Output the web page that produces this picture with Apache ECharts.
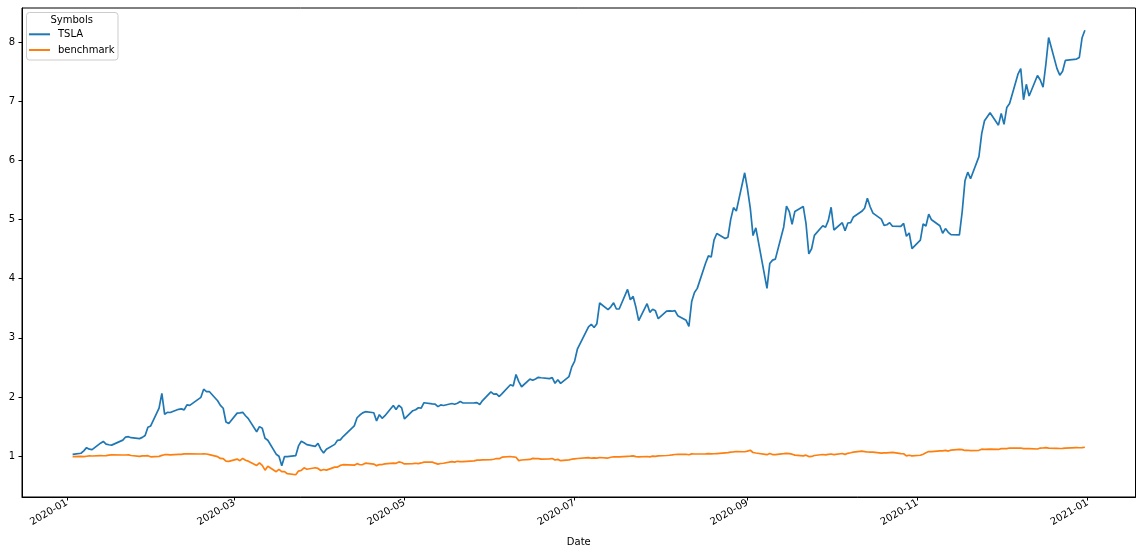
<!DOCTYPE html>
<html><head><meta charset="utf-8">
<script src="https://cdn.jsdelivr.net/npm/echarts@6/dist/echarts.min.js"></script>
<style>html,body{margin:0;padding:0;background:#fff}#c{width:1143px;height:554px}</style>
</head><body><div id="c"></div>
<script>
const dates = [
'2020-01-03','2020-01-06','2020-01-07','2020-01-08','2020-01-09','2020-01-10','2020-01-13','2020-01-14','2020-01-15','2020-01-16','2020-01-17','2020-01-21','2020-01-22','2020-01-23','2020-01-24','2020-01-27','2020-01-28','2020-01-29','2020-01-30','2020-01-31',
'2020-02-03','2020-02-04','2020-02-05','2020-02-06','2020-02-07','2020-02-10','2020-02-11','2020-02-12','2020-02-13','2020-02-14','2020-02-18','2020-02-19','2020-02-20','2020-02-21','2020-02-24','2020-02-25','2020-02-26','2020-02-27','2020-02-28',
'2020-03-02','2020-03-03','2020-03-04','2020-03-05','2020-03-06','2020-03-09','2020-03-10','2020-03-11','2020-03-12','2020-03-13','2020-03-16','2020-03-17','2020-03-18','2020-03-19','2020-03-20','2020-03-23','2020-03-24','2020-03-25','2020-03-26','2020-03-27','2020-03-30','2020-03-31',
'2020-04-01','2020-04-02','2020-04-03','2020-04-06','2020-04-07','2020-04-08','2020-04-09','2020-04-13','2020-04-14','2020-04-15','2020-04-16','2020-04-17','2020-04-20','2020-04-21','2020-04-22','2020-04-23','2020-04-24','2020-04-27','2020-04-28','2020-04-29','2020-04-30',
'2020-05-01','2020-05-04','2020-05-05','2020-05-06','2020-05-07','2020-05-08','2020-05-11','2020-05-12','2020-05-13','2020-05-14','2020-05-15','2020-05-18','2020-05-19','2020-05-20','2020-05-21','2020-05-22','2020-05-26','2020-05-27','2020-05-28','2020-05-29',
'2020-06-01','2020-06-02','2020-06-03','2020-06-04','2020-06-05','2020-06-08','2020-06-09','2020-06-10','2020-06-11','2020-06-12','2020-06-15','2020-06-16','2020-06-17','2020-06-18','2020-06-19','2020-06-22','2020-06-23','2020-06-24','2020-06-25','2020-06-26','2020-06-29','2020-06-30',
'2020-07-01','2020-07-02','2020-07-06','2020-07-07','2020-07-08','2020-07-09','2020-07-10','2020-07-13','2020-07-14','2020-07-15','2020-07-16','2020-07-17','2020-07-20','2020-07-21','2020-07-22','2020-07-23','2020-07-24','2020-07-27','2020-07-28','2020-07-29','2020-07-30','2020-07-31',
'2020-08-03','2020-08-04','2020-08-05','2020-08-06','2020-08-07','2020-08-10','2020-08-11','2020-08-12','2020-08-13','2020-08-14','2020-08-17','2020-08-18','2020-08-19','2020-08-20','2020-08-21','2020-08-24','2020-08-25','2020-08-26','2020-08-27','2020-08-28','2020-08-31',
'2020-09-01','2020-09-02','2020-09-03','2020-09-04','2020-09-08','2020-09-09','2020-09-10','2020-09-11','2020-09-14','2020-09-15','2020-09-16','2020-09-17','2020-09-18','2020-09-21','2020-09-22','2020-09-23','2020-09-24','2020-09-25','2020-09-28','2020-09-29','2020-09-30',
'2020-10-01','2020-10-02','2020-10-05','2020-10-06','2020-10-07','2020-10-08','2020-10-09','2020-10-12','2020-10-13','2020-10-14','2020-10-15','2020-10-16','2020-10-19','2020-10-20','2020-10-21','2020-10-22','2020-10-23','2020-10-26','2020-10-27','2020-10-28','2020-10-29','2020-10-30',
'2020-11-02','2020-11-03','2020-11-04','2020-11-05','2020-11-06','2020-11-09','2020-11-10','2020-11-11','2020-11-12','2020-11-13','2020-11-16','2020-11-17','2020-11-18','2020-11-19','2020-11-20','2020-11-23','2020-11-24','2020-11-25','2020-11-27','2020-11-30',
'2020-12-01','2020-12-02','2020-12-03','2020-12-04','2020-12-07','2020-12-08','2020-12-09','2020-12-10','2020-12-11','2020-12-14','2020-12-15','2020-12-16','2020-12-17','2020-12-18','2020-12-21','2020-12-22','2020-12-23','2020-12-24','2020-12-28','2020-12-29','2020-12-30','2020-12-31'
];
const tsla = [
1.030,1.050,1.090,1.144,1.119,1.111,1.220,1.250,1.205,1.193,1.187,1.272,1.324,1.330,1.313,1.297,1.318,1.350,1.489,1.512,
1.813,2.062,1.708,1.741,1.739,1.793,1.800,1.783,1.869,1.860,1.995,2.132,2.090,2.094,1.938,1.859,1.810,1.578,1.553,
1.728,1.733,1.742,1.684,1.635,1.413,1.500,1.474,1.303,1.270,1.034,1.000,0.840,0.994,0.994,1.009,1.174,1.253,1.228,1.195,1.167,1.218,
1.119,1.056,1.116,1.200,1.268,1.276,1.332,1.513,1.650,1.696,1.732,1.752,1.735,1.596,1.702,1.640,1.685,1.856,1.788,1.861,1.817,
1.630,1.769,1.785,1.819,1.813,1.904,1.886,1.881,1.838,1.867,1.857,1.891,1.878,1.896,1.924,1.899,1.903,1.906,1.873,1.941,
2.087,2.049,2.052,2.009,2.058,2.208,2.186,2.382,2.261,2.174,2.303,2.283,2.305,2.333,2.326,2.311,2.328,2.233,2.292,2.231,2.346,2.510,
2.602,2.809,3.188,3.230,3.175,3.241,3.590,3.479,3.525,3.593,3.488,3.488,3.819,3.645,3.701,3.517,3.293,3.578,3.432,3.484,3.457,3.325,
3.451,3.456,3.451,3.462,3.376,3.297,3.194,3.614,3.768,3.837,4.266,4.386,4.366,4.653,4.765,4.681,4.703,5.004,5.203,5.144,5.791,
5.521,5.199,4.730,4.861,3.837,4.257,4.315,4.331,4.876,5.227,5.134,4.921,5.138,5.222,4.930,4.420,4.507,4.734,4.895,4.870,4.986,
5.208,4.824,4.947,4.811,4.942,4.950,5.044,5.140,5.191,5.361,5.217,5.109,5.007,4.903,4.912,4.948,4.888,4.884,4.935,4.718,4.774,4.509,
4.654,4.926,4.892,5.091,4.996,4.896,4.769,4.848,4.785,4.747,4.742,5.132,5.655,5.802,5.690,6.064,6.454,6.671,6.807,6.596,
6.796,6.610,6.896,6.962,7.458,7.552,7.025,7.287,7.089,7.436,7.359,7.237,7.622,8.077,7.552,7.441,7.507,7.691,7.713,7.740,8.074,8.201
];
const benchmark = [
0.992,0.996,0.993,0.999,1.005,1.003,1.009,1.008,1.010,1.019,1.022,1.020,1.020,1.021,1.012,0.996,1.006,1.005,1.009,0.990,
0.998,1.013,1.025,1.028,1.023,1.030,1.032,1.039,1.038,1.039,1.037,1.041,1.037,1.027,0.992,0.962,0.959,0.916,0.912,
0.951,0.924,0.963,0.931,0.916,0.844,0.888,0.845,0.764,0.829,0.738,0.778,0.739,0.740,0.704,0.686,0.748,0.760,0.804,0.780,0.805,0.793,
0.758,0.775,0.764,0.815,0.816,0.844,0.856,0.849,0.874,0.855,0.859,0.882,0.867,0.840,0.859,0.859,0.871,0.884,0.880,0.903,0.894,
0.870,0.873,0.881,0.875,0.886,0.900,0.900,0.882,0.867,0.877,0.881,0.908,0.899,0.914,0.908,0.909,0.921,0.934,0.933,0.937,
0.941,0.948,0.961,0.958,0.983,0.995,0.987,0.982,0.925,0.936,0.945,0.963,0.959,0.960,0.950,0.956,0.961,0.936,0.946,0.924,0.937,0.949,
0.956,0.961,0.976,0.966,0.973,0.968,0.978,0.969,0.982,0.991,0.987,0.990,0.998,1.000,1.006,0.994,0.988,0.995,0.989,1.001,0.997,1.005,
1.012,1.016,1.022,1.029,1.030,1.033,1.024,1.039,1.037,1.037,1.040,1.042,1.038,1.041,1.045,1.057,1.061,1.070,1.072,1.079,1.075,
1.085,1.101,1.063,1.054,1.026,1.046,1.028,1.028,1.042,1.047,1.043,1.034,1.018,1.006,1.017,0.993,0.996,1.012,1.029,1.023,1.031,
1.037,1.028,1.046,1.031,1.049,1.058,1.068,1.085,1.078,1.071,1.070,1.069,1.053,1.057,1.055,1.061,1.064,1.045,1.041,1.006,1.016,1.005,
1.016,1.034,1.057,1.078,1.078,1.091,1.090,1.098,1.087,1.102,1.116,1.110,1.097,1.101,1.094,1.100,1.118,1.116,1.119,1.114,
1.127,1.129,1.129,1.138,1.136,1.139,1.129,1.129,1.128,1.122,1.138,1.139,1.146,1.136,1.132,1.130,1.131,1.136,1.146,1.143,1.145,1.151
];
const seriesNames = ['TSLA', 'benchmark'];
const legendTitle = 'Symbols';
const xAxisName = 'Date';
const xTickDates = ['2020-01-01','2020-03-01','2020-05-01','2020-07-01','2020-09-01','2020-11-01','2021-01-01'];
const yTickValues = [1, 2, 3, 4, 5, 6, 7, 8];

const FONT = 'DejaVu Sans';
const ts = dates.map(d => Date.parse(d));
const span = ts[ts.length - 1] - ts[0];
const xMin = ts[0] - 0.05 * span, xMax = ts[ts.length - 1] + 0.05 * span;
const allV = tsla.concat(benchmark);
const vMin = Math.min(...allV), vMax = Math.max(...allV);
const yMin = vMin - 0.05 * (vMax - vMin), yMax = vMax + 0.05 * (vMax - vMin);
const xTicks = xTickDates.map(d => Date.parse(d));

const chart = echarts.init(document.getElementById('c'), null, {renderer: 'canvas'});
const axisCommon = {
  axisLine: {show: true, onZero: false, lineStyle: {color: '#000', width: 1}},
  splitLine: {show: false}
};
const legendText = {fontSize: 10, color: '#000', fontFamily: FONT, lineHeight: 14, padding: [0, 0, 0, 3]};
chart.setOption({
  animation: false,
  backgroundColor: '#fff',
  textStyle: {fontFamily: FONT},
  grid: {left: 22, right: 7.5, top: 8, bottom: 57, show: true, borderColor: '#000', borderWidth: 1, containLabel: false},
  xAxis: Object.assign({
    type: 'value', min: xMin, max: xMax, scale: true,
    name: xAxisName, nameLocation: 'middle', nameGap: 40,
    nameTextStyle: {color: '#000', fontSize: 10, fontFamily: FONT},
    axisTick: {show: true, customValues: xTicks, length: 3.5, lineStyle: {color: '#000', width: 1}},
    axisLabel: {customValues: xTicks, rotate: 30, margin: 5, color: '#000', fontSize: 10, fontFamily: FONT,
      formatter: v => new Date(v).toISOString().slice(0, 7)}
  }, axisCommon),
  yAxis: Object.assign({
    type: 'value', min: yMin, max: yMax, scale: true,
    axisTick: {show: true, customValues: yTickValues, length: 3.5, lineStyle: {color: '#000', width: 1}},
    axisLabel: {customValues: yTickValues, margin: 7, color: '#000', fontSize: 10, fontFamily: FONT}
  }, axisCommon),
  legend: [
    {data: [seriesNames[0]], left: 29, top: 27.3, orient: 'vertical', icon: 'rect', itemWidth: 21, itemHeight: 2,
     padding: 0, selectedMode: false, textStyle: legendText, z: 5},
    {data: [seriesNames[1]], left: 29, top: 43, orient: 'vertical', icon: 'rect', itemWidth: 21, itemHeight: 2,
     padding: 0, selectedMode: false, textStyle: legendText, z: 5}
  ],
  graphic: [
    {type: 'rect', z: 4, shape: {x: 26.5, y: 12.5, width: 91.5, height: 47.5, r: 3},
     style: {fill: 'rgba(255,255,255,0.8)', stroke: '#cccccc', lineWidth: 1}},
    {type: 'text', z: 5, x: 71.7, y: 20.7,
     style: {text: legendTitle, textAlign: 'center', textVerticalAlign: 'middle', fontSize: 10, fontFamily: FONT, fill: '#000'}}
  ],
  series: [
    {name: seriesNames[0], type: 'line', data: ts.map((t, i) => [t, tsla[i]]), symbol: 'none', showSymbol: false,
     lineStyle: {width: 1.7, color: '#1f77b4'}, itemStyle: {color: '#1f77b4'}},
    {name: seriesNames[1], type: 'line', data: ts.map((t, i) => [t, benchmark[i]]), symbol: 'none', showSymbol: false,
     lineStyle: {width: 1.7, color: '#ff7f0e'}, itemStyle: {color: '#ff7f0e'}}
  ]
});
</script>
</body></html>
